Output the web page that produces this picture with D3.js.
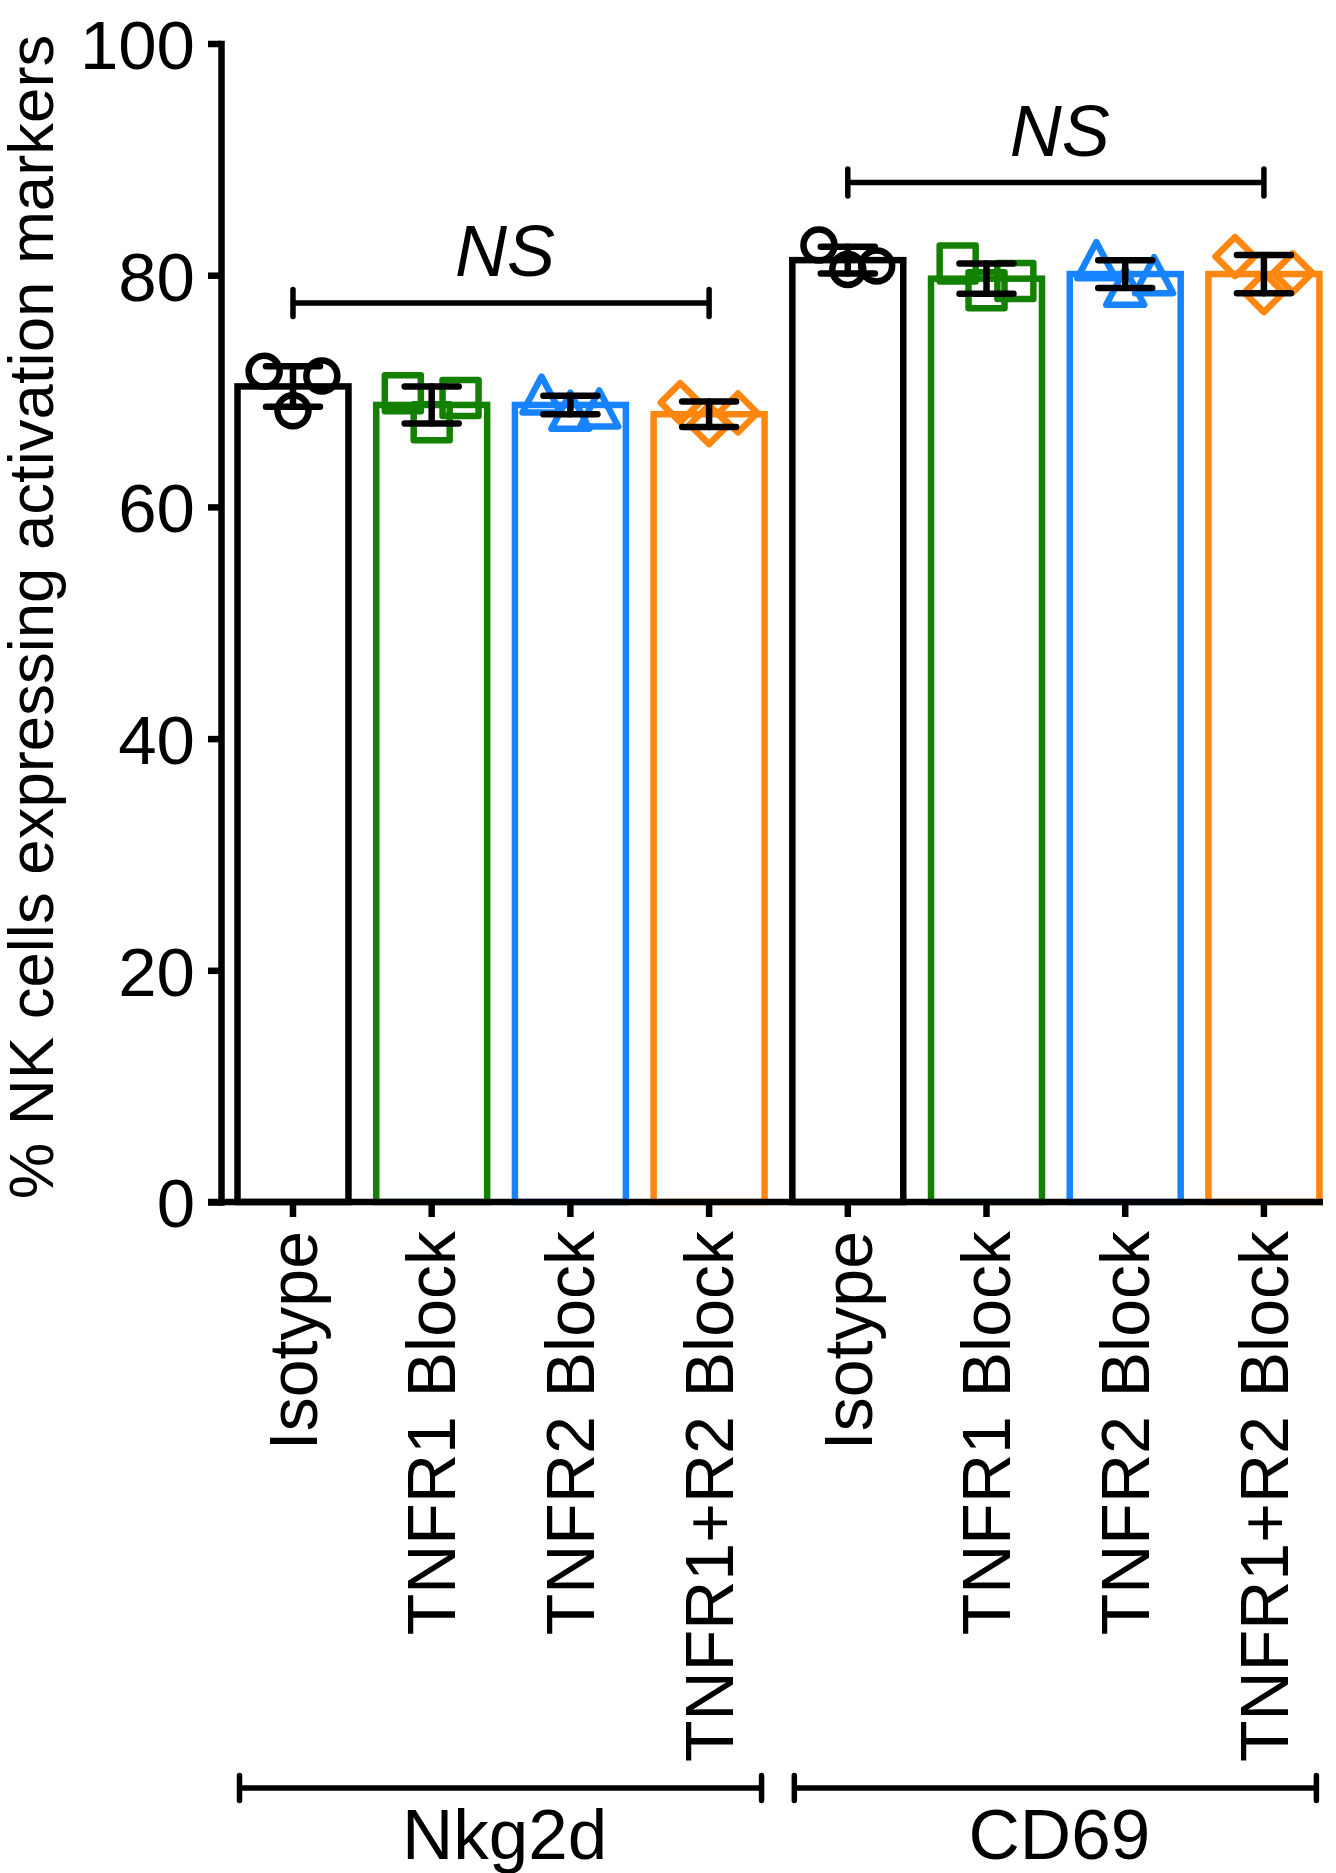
<!DOCTYPE html>
<html><head><meta charset="utf-8">
<script src="https://cdn.jsdelivr.net/npm/d3@7"></script>
<style>
html,body{margin:0;padding:0;background:#fff;}
svg{display:block;}
text{font-family:"Liberation Sans", Arial, Helvetica, sans-serif; fill:#000;}
</style></head>
<body><svg id="chart" width="1336" height="1873"></svg>
<script>
// ---------- data ----------
const groups = ["Nkg2d", "CD69"];
const conditions = ["Isotype", "TNFR1 Block", "TNFR2 Block", "TNFR1+R2 Block"];
const yTickValues = [0, 20, 40, 60, 80, 100];
const yTitle = "% NK cells expressing activation markers";

const nkg2dMeans  = [70.4, 68.8, 68.8, 68.0];
const nkg2dErrors = [1.75, 1.6, 0.8, 1.1];
const nkg2dPoints = [[71.7, 68.3, 71.3], [69.8, 67.3, 69.4], [69.7, 68.3, 68.5], [69.0, 67.1, 68.1]];

const cd69Means  = [81.3, 79.7, 80.1, 80.1];
const cd69Errors = [1.15, 1.3, 1.2, 1.65];
const cd69Points = [[82.6, 80.5, 80.8], [81.0, 78.7, 79.5], [81.3, 79.0, 80.0], [81.6, 78.5, 80.2]];

const sigLabels = ["NS", "NS"];
const sigLevels = [77.6, 88.0];

// ---------- styles ----------
const conditionColors = ["#000000", "#138000", "#1883ff", "#ff870f"];
const conditionShapes = ["circle", "square", "triangle", "diamond"];
const SW = 6.5;
const FONT = '"Liberation Sans", Arial, Helvetica, sans-serif';

// ---------- build rows ----------
const groupMeans = [nkg2dMeans, cd69Means];
const groupErrors = [nkg2dErrors, cd69Errors];
const groupPoints = [nkg2dPoints, cd69Points];
const rows = [];
groups.forEach((g, gi) => conditions.forEach((c, ci) => {
  rows.push({key: gi * conditions.length + ci, group: g, gi, condition: c, ci,
    mean: groupMeans[gi][ci], err: groupErrors[gi][ci], pts: groupPoints[gi][ci]});
}));

const svg = d3.select("#chart");
const y = d3.scaleLinear().domain([0, 100]).range([1202, 43.5]);
const x = d3.scaleBand().domain(rows.map(r => r.key)).range([237.5, 1319.4]).paddingInner(0.2).paddingOuter(0);
const bw = x.bandwidth();
const cx = k => x(k) + bw / 2;

// ---------- y axis ----------
const yAxisX = 221;
const yAxis = d3.axisLeft(y).tickValues(yTickValues).tickSize(13).tickSizeOuter(0).tickPadding(13);
const gy = svg.append("g").attr("transform", `translate(${yAxisX},0)`).call(yAxis);
gy.select(".domain").attr("stroke", "#000").attr("stroke-width", SW).attr("stroke-linecap", "square");
gy.selectAll(".tick line").attr("stroke", "#000").attr("stroke-width", SW);
gy.selectAll(".tick text").attr("font-size", 69).attr("font-family", FONT).attr("fill", "#000").attr("dy", "0.36em");

// y title
svg.append("text").attr("transform", `translate(53,617) rotate(-90)`)
  .attr("text-anchor", "middle").attr("font-size", 63.5).text(yTitle);

// ---------- bars ----------
svg.append("g").selectAll("rect").data(rows).join("rect")
  .attr("x", d => x(d.key)).attr("y", d => y(d.mean))
  .attr("width", bw).attr("height", d => y(0) - y(d.mean))
  .attr("fill", "none").attr("stroke", d => conditionColors[d.ci]).attr("stroke-width", SW);

// ---------- x axis ----------
svg.append("line").attr("x1", 208).attr("x2", 1323).attr("y1", y(0)).attr("y2", y(0))
  .attr("stroke", "#000").attr("stroke-width", SW);
const xAxis = d3.axisBottom(x).tickSize(15).tickSizeOuter(0).tickFormat(k => rows[k].condition);
const gx = svg.append("g").attr("transform", `translate(0,${y(0)})`).call(xAxis);
gx.select(".domain").remove();
gx.selectAll(".tick line").attr("stroke", "#000").attr("stroke-width", SW);
gx.selectAll(".tick text").attr("font-size", 68).attr("font-family", FONT).attr("fill", "#000")
  .attr("transform", "rotate(-90)").attr("text-anchor", "end")
  .attr("x", -29).attr("y", 0).attr("dy", "0.35em");

// ---------- points ----------
function shapePath(shape) {
  if (shape === "circle") { const r = 15.5; return `M${-r},0A${r},${r} 0 1,0 ${r},0A${r},${r} 0 1,0 ${-r},0Z`; }
  if (shape === "square") { const s = 18; return `M${-s},${-s}H${s}V${s}H${-s}Z`; }
  if (shape === "triangle") { const w = 19, h = 18; return `M0,${-h}L${w},${h}L${-w},${h}Z`; }
  const d = 19.5; return `M0,${-d}L${d},0L0,${d}L${-d},0Z`;
}
const jitter = bw * 0.26;
const pts = [];
rows.forEach(r => r.pts.forEach((v, i) => pts.push({r, v, i})));
svg.append("g").selectAll("path").data(pts).join("path")
  .attr("d", d => shapePath(conditionShapes[d.r.ci]))
  .attr("transform", d => `translate(${cx(d.r.key) + (d.i - 1) * jitter},${y(d.v)})`)
  .attr("fill", "none").attr("stroke", d => conditionColors[d.r.ci])
  .attr("stroke-width", SW).attr("stroke-linejoin", "round");

// ---------- error bars ----------
const eg = svg.append("g").attr("stroke", "#000").attr("stroke-width", SW).attr("stroke-linecap", "round");
const capHalf = 27;
rows.forEach(r => {
  const c = cx(r.key);
  eg.append("line").attr("x1", c).attr("x2", c).attr("y1", y(r.mean - r.err)).attr("y2", y(r.mean + r.err));
  [r.mean - r.err, r.mean + r.err].forEach(v =>
    eg.append("line").attr("x1", c - capHalf).attr("x2", c + capHalf).attr("y1", y(v)).attr("y2", y(v)));
});

// ---------- significance brackets ----------
const sg = svg.append("g");
groups.forEach((g, gi) => {
  const first = gi * conditions.length, last = first + conditions.length - 1;
  const x1 = cx(first), x2 = cx(last), yy = y(sigLevels[gi]);
  const p = `M${x1},${yy - 13.5}V${yy + 13.5}M${x1},${yy}H${x2}M${x2},${yy - 13.5}V${yy + 13.5}`;
  sg.append("path").attr("d", p).attr("fill", "none").attr("stroke", "#000")
    .attr("stroke-width", 5.5).attr("stroke-linecap", "round");
  sg.append("text").attr("x", (x1 + x2) / 2 + 4).attr("y", yy - 27).attr("text-anchor", "middle")
    .attr("font-size", 72).attr("font-style", "italic").text(sigLabels[gi]);
});

// ---------- group brackets ----------
const gb = svg.append("g");
groups.forEach((g, gi) => {
  const first = gi * conditions.length, last = first + conditions.length - 1;
  const x1 = x(first) + 2, x2 = x(last) + bw - 3, yy = 1788;
  const p = `M${x1},${yy - 12.5}V${yy + 12.5}M${x1},${yy}H${x2}M${x2},${yy - 12.5}V${yy + 12.5}`;
  gb.append("path").attr("d", p).attr("fill", "none").attr("stroke", "#000")
    .attr("stroke-width", 5.5).attr("stroke-linecap", "round");
  gb.append("text").attr("x", (x1 + x2) / 2 + 4).attr("y", 1859).attr("text-anchor", "middle")
    .attr("font-size", 71).text(g);
});
</script>
</body></html>
